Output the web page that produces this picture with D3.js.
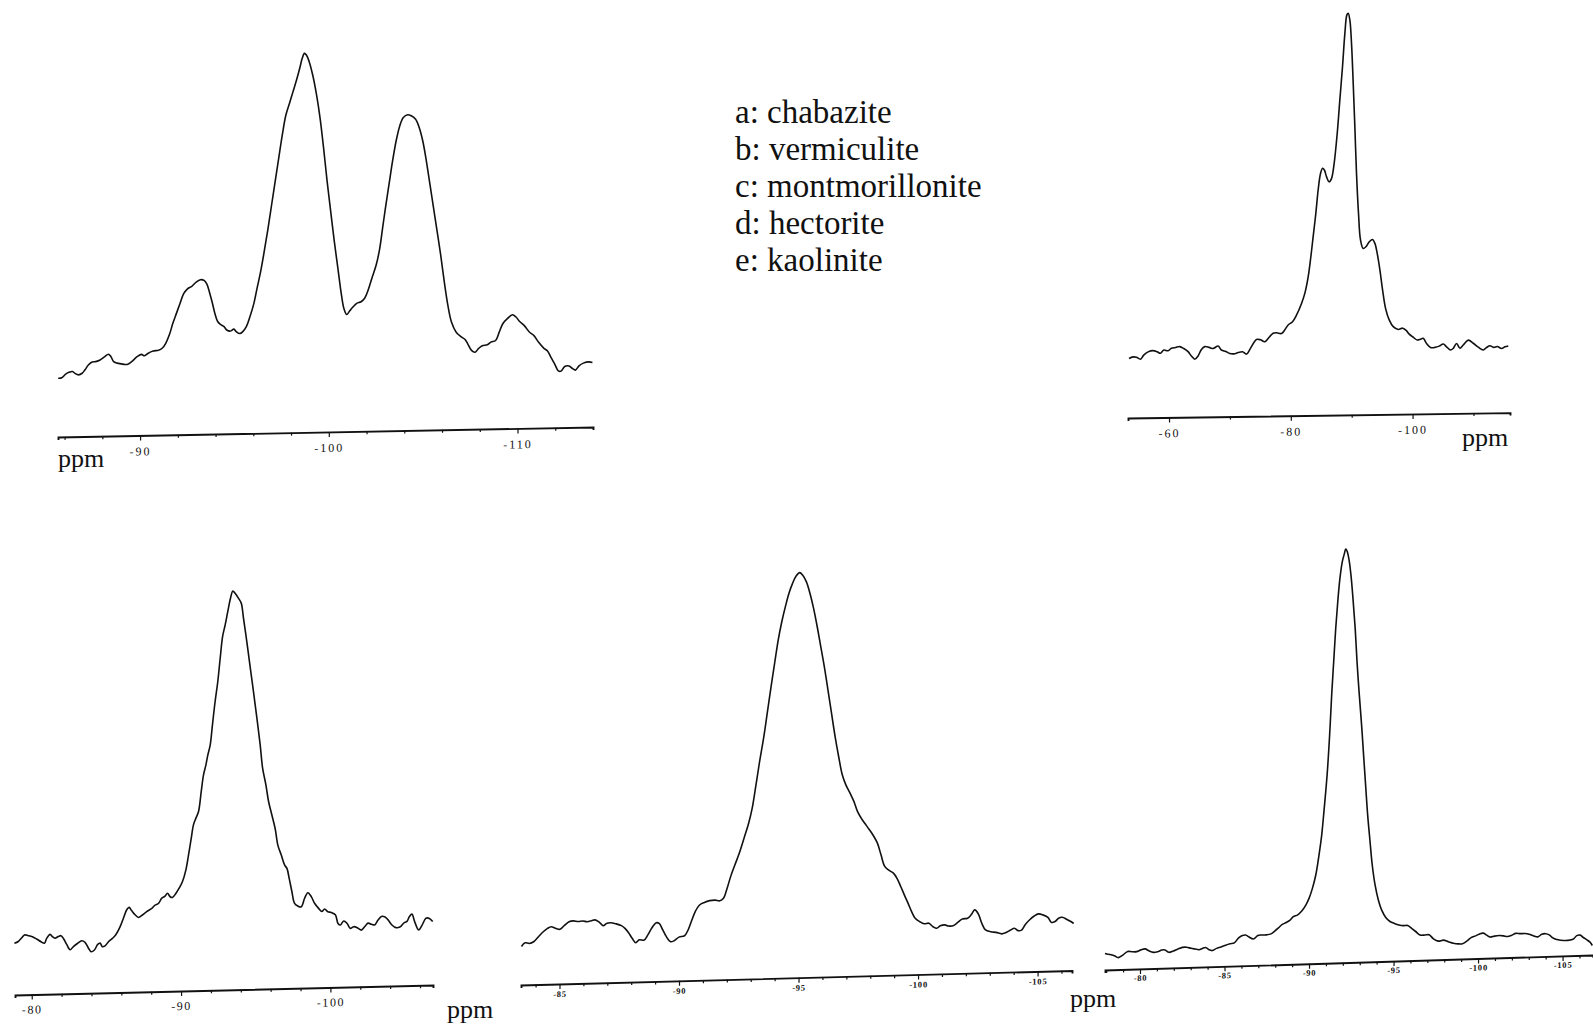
<!DOCTYPE html>
<html>
<head>
<meta charset="utf-8">
<script src="https://cdn.jsdelivr.net/npm/d3@7"></script>
<style>
  html, body { margin: 0; padding: 0; background: #fff; }
  svg { display: block; }
</style>
</head>
<body>
<svg id="chart" width="1593" height="1025"></svg>
<script>
// ---------------- DATA ----------------
const legendLabels = ["a: chabazite", "b: vermiculite", "c: montmorillonite", "d: hectorite", "e: kaolinite"];

// [chemical shift (ppm), relative intensity (main peak = 100)]
const chabaziteSpectrum = [[-85.66,15.5],[-85.85,15.6],[-86.04,16.5],[-86.23,17.0],[-86.42,17.2],[-86.55,16.7],[-86.74,16.3],[-86.93,16.7],[-87.08,17.6],[-87.27,18.9],[-87.46,19.6],[-87.65,19.7],[-87.88,20.1],[-88.13,21.0],[-88.32,21.6],[-88.45,21.0],[-88.6,19.6],[-88.79,19.2],[-89.08,18.9],[-89.32,18.8],[-89.55,19.5],[-89.84,20.8],[-90.08,21.4],[-90.22,21.0],[-90.41,21.6],[-90.69,22.2],[-90.98,22.4],[-91.17,22.9],[-91.36,24.2],[-91.55,26.4],[-91.74,29.5],[-91.93,32.1],[-92.12,34.7],[-92.31,37.2],[-92.5,38.4],[-92.74,39.1],[-92.97,40.2],[-93.2,40.8],[-93.39,40.6],[-93.54,39.6],[-93.69,37.2],[-93.83,34.6],[-93.96,31.9],[-94.11,29.7],[-94.26,28.9],[-94.45,28.3],[-94.59,27.4],[-94.78,27.1],[-94.97,27.6],[-95.1,26.9],[-95.29,26.4],[-95.44,26.9],[-95.63,28.2],[-95.82,30.8],[-96.01,33.9],[-96.2,38.3],[-96.39,42.7],[-96.58,48.0],[-96.77,53.7],[-96.96,59.9],[-97.15,66.1],[-97.34,72.3],[-97.53,78.4],[-97.72,83.7],[-97.91,86.8],[-98.1,89.9],[-98.29,93.0],[-98.48,96.5],[-98.59,98.7],[-98.71,100],[-98.82,99.5],[-98.96,97.8],[-99.15,94.2],[-99.34,89.3],[-99.53,83.1],[-99.72,75.1],[-99.91,66.2],[-100.1,58.2],[-100.29,50.3],[-100.48,43.2],[-100.67,36.1],[-100.8,32.5],[-100.95,30.9],[-101.1,31.8],[-101.29,32.9],[-101.48,33.8],[-101.71,34.2],[-101.9,35.1],[-102.09,37.3],[-102.28,40.3],[-102.51,43.8],[-102.7,48.2],[-102.85,53.5],[-103.0,58.8],[-103.19,65.0],[-103.38,71.2],[-103.57,76.5],[-103.76,80.4],[-103.95,82.6],[-104.18,83.3],[-104.37,83.0],[-104.6,82.1],[-104.79,79.9],[-104.98,76.3],[-105.17,71.0],[-105.36,64.8],[-105.55,58.6],[-105.74,52.4],[-105.93,46.1],[-106.12,39.0],[-106.31,32.8],[-106.5,28.4],[-106.75,25.7],[-107.0,24.5],[-107.22,23.7],[-107.37,22.5],[-107.56,20.8],[-107.75,20.3],[-107.94,21.3],[-108.13,22.0],[-108.4,22.2],[-108.59,22.9],[-108.84,23.3],[-109.03,25.5],[-109.22,27.7],[-109.46,29.0],[-109.73,30.0],[-109.92,29.4],[-110.11,28.2],[-110.36,27.1],[-110.64,25.3],[-110.87,24.4],[-111.12,22.6],[-111.4,21.0],[-111.59,20.3],[-111.78,18.5],[-111.97,16.8],[-112.16,15.0],[-112.31,14.9],[-112.5,16.1],[-112.73,16.2],[-112.92,15.5],[-113.07,15.1],[-113.26,16.2],[-113.49,16.9],[-113.78,17.2],[-113.97,17.0]];

const vermiculiteSpectrum = [[-53.43,14.8],[-54.09,15.2],[-54.64,15.1],[-55.3,14.6],[-55.84,15.6],[-56.56,16.4],[-57.38,16.7],[-58.04,16.4],[-58.58,16.0],[-59.13,16.8],[-59.84,16.6],[-60.39,17.2],[-61.1,17.4],[-61.76,17.6],[-62.42,17.1],[-63.13,16.3],[-63.68,15.2],[-64.23,14.4],[-64.77,15.2],[-65.32,16.8],[-65.87,17.5],[-66.58,17.3],[-67.24,17.0],[-68.06,17.6],[-68.61,16.6],[-69.32,16.2],[-69.98,15.7],[-70.63,15.6],[-71.35,15.9],[-72.06,16.1],[-72.72,15.5],[-73.37,16.9],[-74.36,19.1],[-75.02,19.0],[-75.73,18.5],[-76.44,19.6],[-77.1,20.6],[-77.65,20.7],[-78.47,20.5],[-79.02,21.4],[-79.56,22.6],[-80.28,23.4],[-80.93,25.0],[-81.76,27.9],[-82.3,30.4],[-82.85,34.5],[-83.29,39.5],[-83.67,44.5],[-84.11,50.3],[-84.49,56.1],[-84.88,60.2],[-85.21,61.5],[-85.53,61.0],[-85.86,59.4],[-86.3,58.1],[-86.68,58.9],[-87.12,62.7],[-87.62,70.1],[-88.05,78.4],[-88.49,86.7],[-88.88,95.0],[-89.21,99.6],[-89.42,100],[-89.7,98.3],[-89.97,92.5],[-90.25,82.5],[-90.52,71.7],[-90.79,60.1],[-91.12,50.1],[-91.45,43.5],[-91.89,41.4],[-92.33,41.8],[-92.88,43.0],[-93.42,43.6],[-93.81,42.6],[-94.19,40.1],[-94.63,36.0],[-95.07,31.0],[-95.56,26.4],[-96.16,23.5],[-96.82,21.8],[-97.64,21.1],[-98.35,21.4],[-98.9,20.9],[-99.45,19.9],[-100.11,19.1],[-100.76,18.4],[-101.31,18.6],[-101.75,18.8],[-102.3,17.5],[-102.96,16.5],[-103.67,16.5],[-104.38,16.8],[-105.04,17.3],[-105.58,16.6],[-106.24,15.8],[-106.68,16.2],[-107.23,17.4],[-107.78,16.2],[-108.32,17.0],[-109.15,18.2],[-109.97,17.4],[-110.79,16.4],[-111.61,15.7],[-112.16,16.3],[-112.71,16.7],[-113.36,16.3],[-113.91,16.5],[-114.62,16.0],[-115.17,16.4],[-115.72,16.6]];

const montmorilloniteSpectrum = [[-78.84,13.0],[-79.1,13.4],[-79.33,14.3],[-79.51,15.0],[-79.77,14.8],[-80.04,14.5],[-80.33,13.9],[-80.62,13.2],[-80.85,12.8],[-81.0,14.0],[-81.23,15.0],[-81.38,14.4],[-81.56,14.0],[-81.78,14.4],[-81.96,14.6],[-82.12,13.9],[-82.34,12.4],[-82.57,11.0],[-82.79,11.8],[-83.08,12.6],[-83.35,13.2],[-83.57,12.8],[-83.8,11.3],[-83.97,10.4],[-84.2,10.8],[-84.42,12.2],[-84.58,12.5],[-84.73,11.6],[-84.91,11.8],[-85.14,12.8],[-85.4,13.6],[-85.63,14.5],[-85.92,16.5],[-86.14,18.6],[-86.36,20.7],[-86.52,21.3],[-86.7,20.4],[-86.92,19.4],[-87.15,18.7],[-87.41,19.3],[-87.7,20.1],[-88.04,20.9],[-88.26,21.7],[-88.49,22.1],[-88.71,23.4],[-88.93,23.9],[-89.09,24.6],[-89.27,23.7],[-89.42,23.5],[-89.65,24.5],[-89.87,25.8],[-90.09,27.4],[-90.32,30.3],[-90.5,34.1],[-90.68,38.2],[-90.83,41.6],[-90.99,43.2],[-91.17,44.9],[-91.35,49.9],[-91.5,54.0],[-91.66,56.5],[-91.79,59.0],[-91.95,61.5],[-92.1,66.5],[-92.28,72.4],[-92.46,77.4],[-92.62,83.2],[-92.78,88.6],[-92.95,91.5],[-93.13,94.9],[-93.31,98.2],[-93.47,100],[-93.62,99.4],[-93.85,98.1],[-94.03,96.9],[-94.18,93.1],[-94.34,88.9],[-94.52,83.9],[-94.7,78.8],[-94.85,74.6],[-95.08,67.9],[-95.3,61.2],[-95.46,55.4],[-95.68,51.2],[-95.86,47.0],[-96.08,43.6],[-96.3,40.2],[-96.48,36.0],[-96.71,33.5],[-96.93,31.0],[-97.09,30.1],[-97.24,27.6],[-97.42,24.3],[-97.6,21.3],[-97.82,20.6],[-98.05,20.4],[-98.27,22.5],[-98.49,23.9],[-98.72,22.9],[-98.94,21.2],[-99.21,19.9],[-99.43,19.1],[-99.61,19.7],[-99.83,19.0],[-100.06,18.8],[-100.33,18.2],[-100.51,16.0],[-100.66,15.6],[-100.89,16.6],[-101.11,16.0],[-101.33,14.7],[-101.56,15.1],[-101.85,14.7],[-102.07,14.2],[-102.29,15.0],[-102.52,15.9],[-102.74,15.6],[-102.96,15.4],[-103.19,16.6],[-103.41,17.5],[-103.63,17.4],[-103.86,16.6],[-104.12,15.3],[-104.39,14.6],[-104.68,14.8],[-104.91,15.7],[-105.13,16.1],[-105.29,17.3],[-105.46,17.9],[-105.64,16.0],[-105.91,13.9],[-106.14,15.1],[-106.4,16.8],[-106.63,16.7],[-106.85,15.9]];

const hectoriteSpectrum = [[-83.41,9.5],[-83.56,10.4],[-83.74,10.2],[-83.92,10.6],[-84.12,11.8],[-84.32,13.0],[-84.5,13.8],[-84.65,14.2],[-84.83,13.8],[-85.02,13.5],[-85.22,14.5],[-85.4,15.3],[-85.58,15.5],[-85.78,15.3],[-85.98,15.4],[-86.16,15.2],[-86.34,15.4],[-86.49,15.6],[-86.68,14.9],[-86.83,14.1],[-86.99,14.7],[-87.14,14.8],[-87.36,14.5],[-87.59,14.0],[-87.74,13.3],[-87.89,12.2],[-88.04,10.8],[-88.19,9.7],[-88.34,10.4],[-88.54,10.3],[-88.69,11.5],[-88.87,13.3],[-89.05,14.5],[-89.17,14.3],[-89.32,12.7],[-89.47,11.0],[-89.65,9.7],[-89.81,10.0],[-90.0,10.8],[-90.23,11.1],[-90.38,12.5],[-90.53,14.8],[-90.68,17.0],[-90.86,18.6],[-91.06,19.2],[-91.28,19.6],[-91.51,19.7],[-91.71,19.5],[-91.86,20.1],[-92.01,22.5],[-92.16,25.4],[-92.34,28.3],[-92.52,31.1],[-92.72,34.8],[-92.91,38.4],[-93.06,42.1],[-93.21,47.5],[-93.36,53.2],[-93.55,59.8],[-93.7,65.9],[-93.85,72.0],[-94.0,77.8],[-94.15,83.5],[-94.3,88.0],[-94.45,91.7],[-94.6,95.0],[-94.75,97.4],[-94.9,99.2],[-95.05,100],[-95.17,99.4],[-95.33,97.7],[-95.48,94.8],[-95.63,91.1],[-95.78,86.6],[-95.93,81.6],[-96.08,76.6],[-96.23,70.9],[-96.38,65.1],[-96.53,59.3],[-96.68,54.3],[-96.83,49.8],[-96.98,47.3],[-97.16,45.2],[-97.32,43.1],[-97.47,40.6],[-97.62,39.0],[-97.77,37.7],[-97.95,36.2],[-98.14,34.5],[-98.3,32.7],[-98.45,29.8],[-98.6,27.0],[-98.79,25.9],[-98.97,25.2],[-99.12,23.9],[-99.28,21.8],[-99.43,19.7],[-99.58,17.7],[-99.73,15.6],[-99.88,13.9],[-100.06,13.1],[-100.26,12.5],[-100.45,12.6],[-100.63,11.7],[-100.78,11.3],[-100.93,11.9],[-101.12,12.1],[-101.27,11.8],[-101.46,11.8],[-101.66,12.6],[-101.84,13.4],[-102.07,13.6],[-102.22,14.4],[-102.37,15.6],[-102.52,14.6],[-102.67,12.2],[-102.82,10.6],[-103.05,10.1],[-103.27,9.9],[-103.5,9.5],[-103.68,9.8],[-103.87,10.4],[-104.03,10.8],[-104.18,10.2],[-104.33,10.3],[-104.48,11.6],[-104.67,12.8],[-104.86,13.7],[-105.04,14.2],[-105.23,13.9],[-105.43,13.3],[-105.58,12.0],[-105.73,12.2],[-105.88,13.0],[-106.03,13.2],[-106.21,12.7],[-106.39,12.1],[-106.51,11.6]];

const kaoliniteSpectrum = [[-77.93,4.0],[-78.22,3.7],[-78.48,3.4],[-78.72,2.9],[-79.02,3.6],[-79.27,4.3],[-79.55,4.2],[-79.8,4.2],[-80.06,4.6],[-80.3,4.8],[-80.53,4.3],[-80.79,3.9],[-81.04,4.0],[-81.29,4.4],[-81.48,4.4],[-81.71,3.8],[-81.97,4.1],[-82.23,4.5],[-82.51,4.9],[-82.76,4.9],[-83.02,4.6],[-83.25,4.4],[-83.5,4.2],[-83.69,4.5],[-83.88,4.7],[-84.09,4.1],[-84.28,3.9],[-84.53,4.4],[-84.8,4.7],[-85.07,5.1],[-85.33,5.4],[-85.58,5.6],[-85.82,6.7],[-86.06,7.3],[-86.25,7.4],[-86.45,6.9],[-86.71,6.4],[-86.97,7.2],[-87.2,7.3],[-87.5,7.3],[-87.75,7.5],[-87.99,8.2],[-88.19,8.9],[-88.42,9.7],[-88.68,10.2],[-88.88,10.7],[-89.07,11.5],[-89.33,11.9],[-89.57,12.8],[-89.81,14.2],[-90.0,15.8],[-90.2,18.2],[-90.4,21.4],[-90.59,26.2],[-90.75,31.0],[-90.9,37.5],[-91.07,45.5],[-91.22,55.2],[-91.34,64.8],[-91.46,72.9],[-91.58,80.9],[-91.7,87.3],[-91.83,93.0],[-91.97,97.0],[-92.1,99.0],[-92.17,100],[-92.25,99.5],[-92.37,97.3],[-92.48,93.7],[-92.6,88.0],[-92.73,80.8],[-92.84,72.7],[-92.96,65.4],[-93.11,57.3],[-93.24,49.3],[-93.36,42.0],[-93.47,35.5],[-93.61,29.1],[-93.74,23.4],[-93.91,18.5],[-94.1,14.9],[-94.3,12.4],[-94.54,10.6],[-94.79,9.6],[-95.05,9.1],[-95.32,8.7],[-95.59,8.5],[-95.84,8.5],[-96.07,7.8],[-96.31,7.0],[-96.57,6.1],[-96.87,6.1],[-97.1,6.1],[-97.36,5.1],[-97.65,4.5],[-97.95,4.7],[-98.24,4.3],[-98.54,3.9],[-98.83,3.7],[-99.08,3.7],[-99.33,4.3],[-99.59,5.1],[-99.86,5.5],[-100.12,6.0],[-100.32,6.1],[-100.51,5.6],[-100.72,5.1],[-100.97,5.3],[-101.25,5.4],[-101.5,5.3],[-101.75,5.1],[-102.0,5.4],[-102.23,5.8],[-102.49,5.7],[-102.78,5.7],[-103.02,5.5],[-103.27,5.1],[-103.54,4.8],[-103.77,5.4],[-104.0,5.5],[-104.21,5.2],[-104.4,4.5],[-104.65,4.0],[-104.91,3.8],[-105.18,3.7],[-105.45,3.8],[-105.64,4.0],[-105.84,4.8],[-106.04,4.9],[-106.23,4.3],[-106.44,3.7],[-106.63,3.1],[-106.76,2.3]];

// axis tick labels (ppm) for each panel
const ticksA = [-90, -100, -110];
const ticksB = [-60, -80, -100];
const ticksC = [-80, -90, -100];
const ticksD = [-85, -90, -95, -100, -105];
const ticksE = [-80, -85, -90, -95, -100, -105];
const unitLabel = "ppm";

// ---------------- LAYOUT ----------------
const svg = d3.select("#chart");
svg.append("rect").attr("width", 1593).attr("height", 1025).attr("fill", "#fff");

const panels = [
  { data: chabaziteSpectrum, majors: ticksA, x0: 58, y0: 437, len: 535, slope: -10/535,
    domain: [-85.65, -114.0], H: 379, minorStep: 2, fs: 12, ls: 2, lab: 20, weight: "normal",
    unit: [58, 467] },
  { data: vermiculiteSpectrum, majors: ticksB, x0: 1128, y0: 418, len: 382, slope: -5.4/382,
    domain: [-53.26, -116.0], H: 401.6, minorStep: 10, fs: 12, ls: 2, lab: 20, weight: "normal",
    unit: [1462, 446] },
  { data: montmorilloniteSpectrum, majors: ticksC, x0: 15, y0: 995, len: 418, slope: -10/418,
    domain: [-78.88, -106.87], H: 398.8, minorStep: 2, fs: 12, ls: 1.6, lab: 19, weight: "normal",
    unit: [447, 1018] },
  { data: hectoriteSpectrum, majors: ticksD, x0: 521, y0: 985, len: 551, slope: -14.5/551,
    domain: [-83.39, -106.44], H: 405, minorStep: 1, fs: 8.5, ls: 0.8, lab: 13, weight: "bold",
    unit: null },
  { data: kaoliniteSpectrum, majors: ticksE, x0: 1105, y0: 970, len: 488, slope: -15/488,
    domain: [-77.93, -106.8], H: 413.6, minorStep: 1, fs: 8.5, ls: 0.8, lab: 12, weight: "bold",
    unit: [1070, 1007] }
];

panels.forEach(p => {
  const angle = Math.atan(p.slope) * 180 / Math.PI;
  const g = svg.append("g")
    .attr("transform", `translate(${p.x0},${p.y0}) skewY(${angle})`);

  const x = d3.scaleLinear().domain(p.domain).range([0, p.len]);
  const y = d3.scaleLinear().domain([0, 100]).range([0, -p.H]);

  // tick positions: every minorStep inside the domain
  const lo = Math.max(p.domain[0], p.domain[1]);
  const hi = Math.min(p.domain[0], p.domain[1]);
  const start = Math.floor(lo / p.minorStep) * p.minorStep;
  const tickVals = d3.range(start, hi, -p.minorStep).filter(v => v <= lo && v >= hi);
  const isMajor = v => p.majors.some(m => Math.abs(m - v) < 1e-6);

  const axis = d3.axisBottom(x)
    .tickValues(tickVals)
    .tickSizeOuter(0)
    .tickSize(3)
    .tickFormat(v => isMajor(v) ? String(v) : "");

  const ax = g.append("g").call(axis);
  ax.select(".domain").attr("stroke", "#111").attr("stroke-width", 1.9);
  ax.selectAll(".tick line")
    .attr("stroke", "#111").attr("stroke-width", 1.2)
    .attr("y2", d => isMajor(d) ? 5 : 3);
  ax.selectAll(".tick text")
    .attr("y", p.lab).attr("dy", null)
    .attr("fill", "#111")
    .style("font-family", "'Liberation Serif', 'DejaVu Serif', serif")
    .style("font-size", p.fs + "px")
    .style("font-weight", p.weight)
    .style("letter-spacing", p.ls + "px");

  const line = d3.line()
    .x(d => x(d[0]))
    .y(d => y(d[1]))
    .curve(d3.curveCatmullRom.alpha(0.5));

  g.append("path")
    .datum(p.data)
    .attr("d", line)
    .attr("fill", "none")
    .attr("stroke", "#111")
    .attr("stroke-width", 1.6)
    .attr("stroke-linejoin", "round");

  if (p.unit) {
    svg.append("text")
      .attr("x", p.unit[0]).attr("y", p.unit[1])
      .attr("fill", "#111")
      .style("font-family", "'Liberation Serif', serif")
      .style("font-size", "26px")
      .text(unitLabel);
  }
});

// ---------------- LEGEND ----------------
svg.append("g")
  .selectAll("text")
  .data(legendLabels)
  .join("text")
  .attr("x", 735)
  .attr("y", (d, i) => 123 + i * 36.9)
  .attr("fill", "#111")
  .style("font-family", "'Liberation Serif', 'DejaVu Serif', serif")
  .style("font-size", "33px")
  .text(d => d);
</script>
</body>
</html>
